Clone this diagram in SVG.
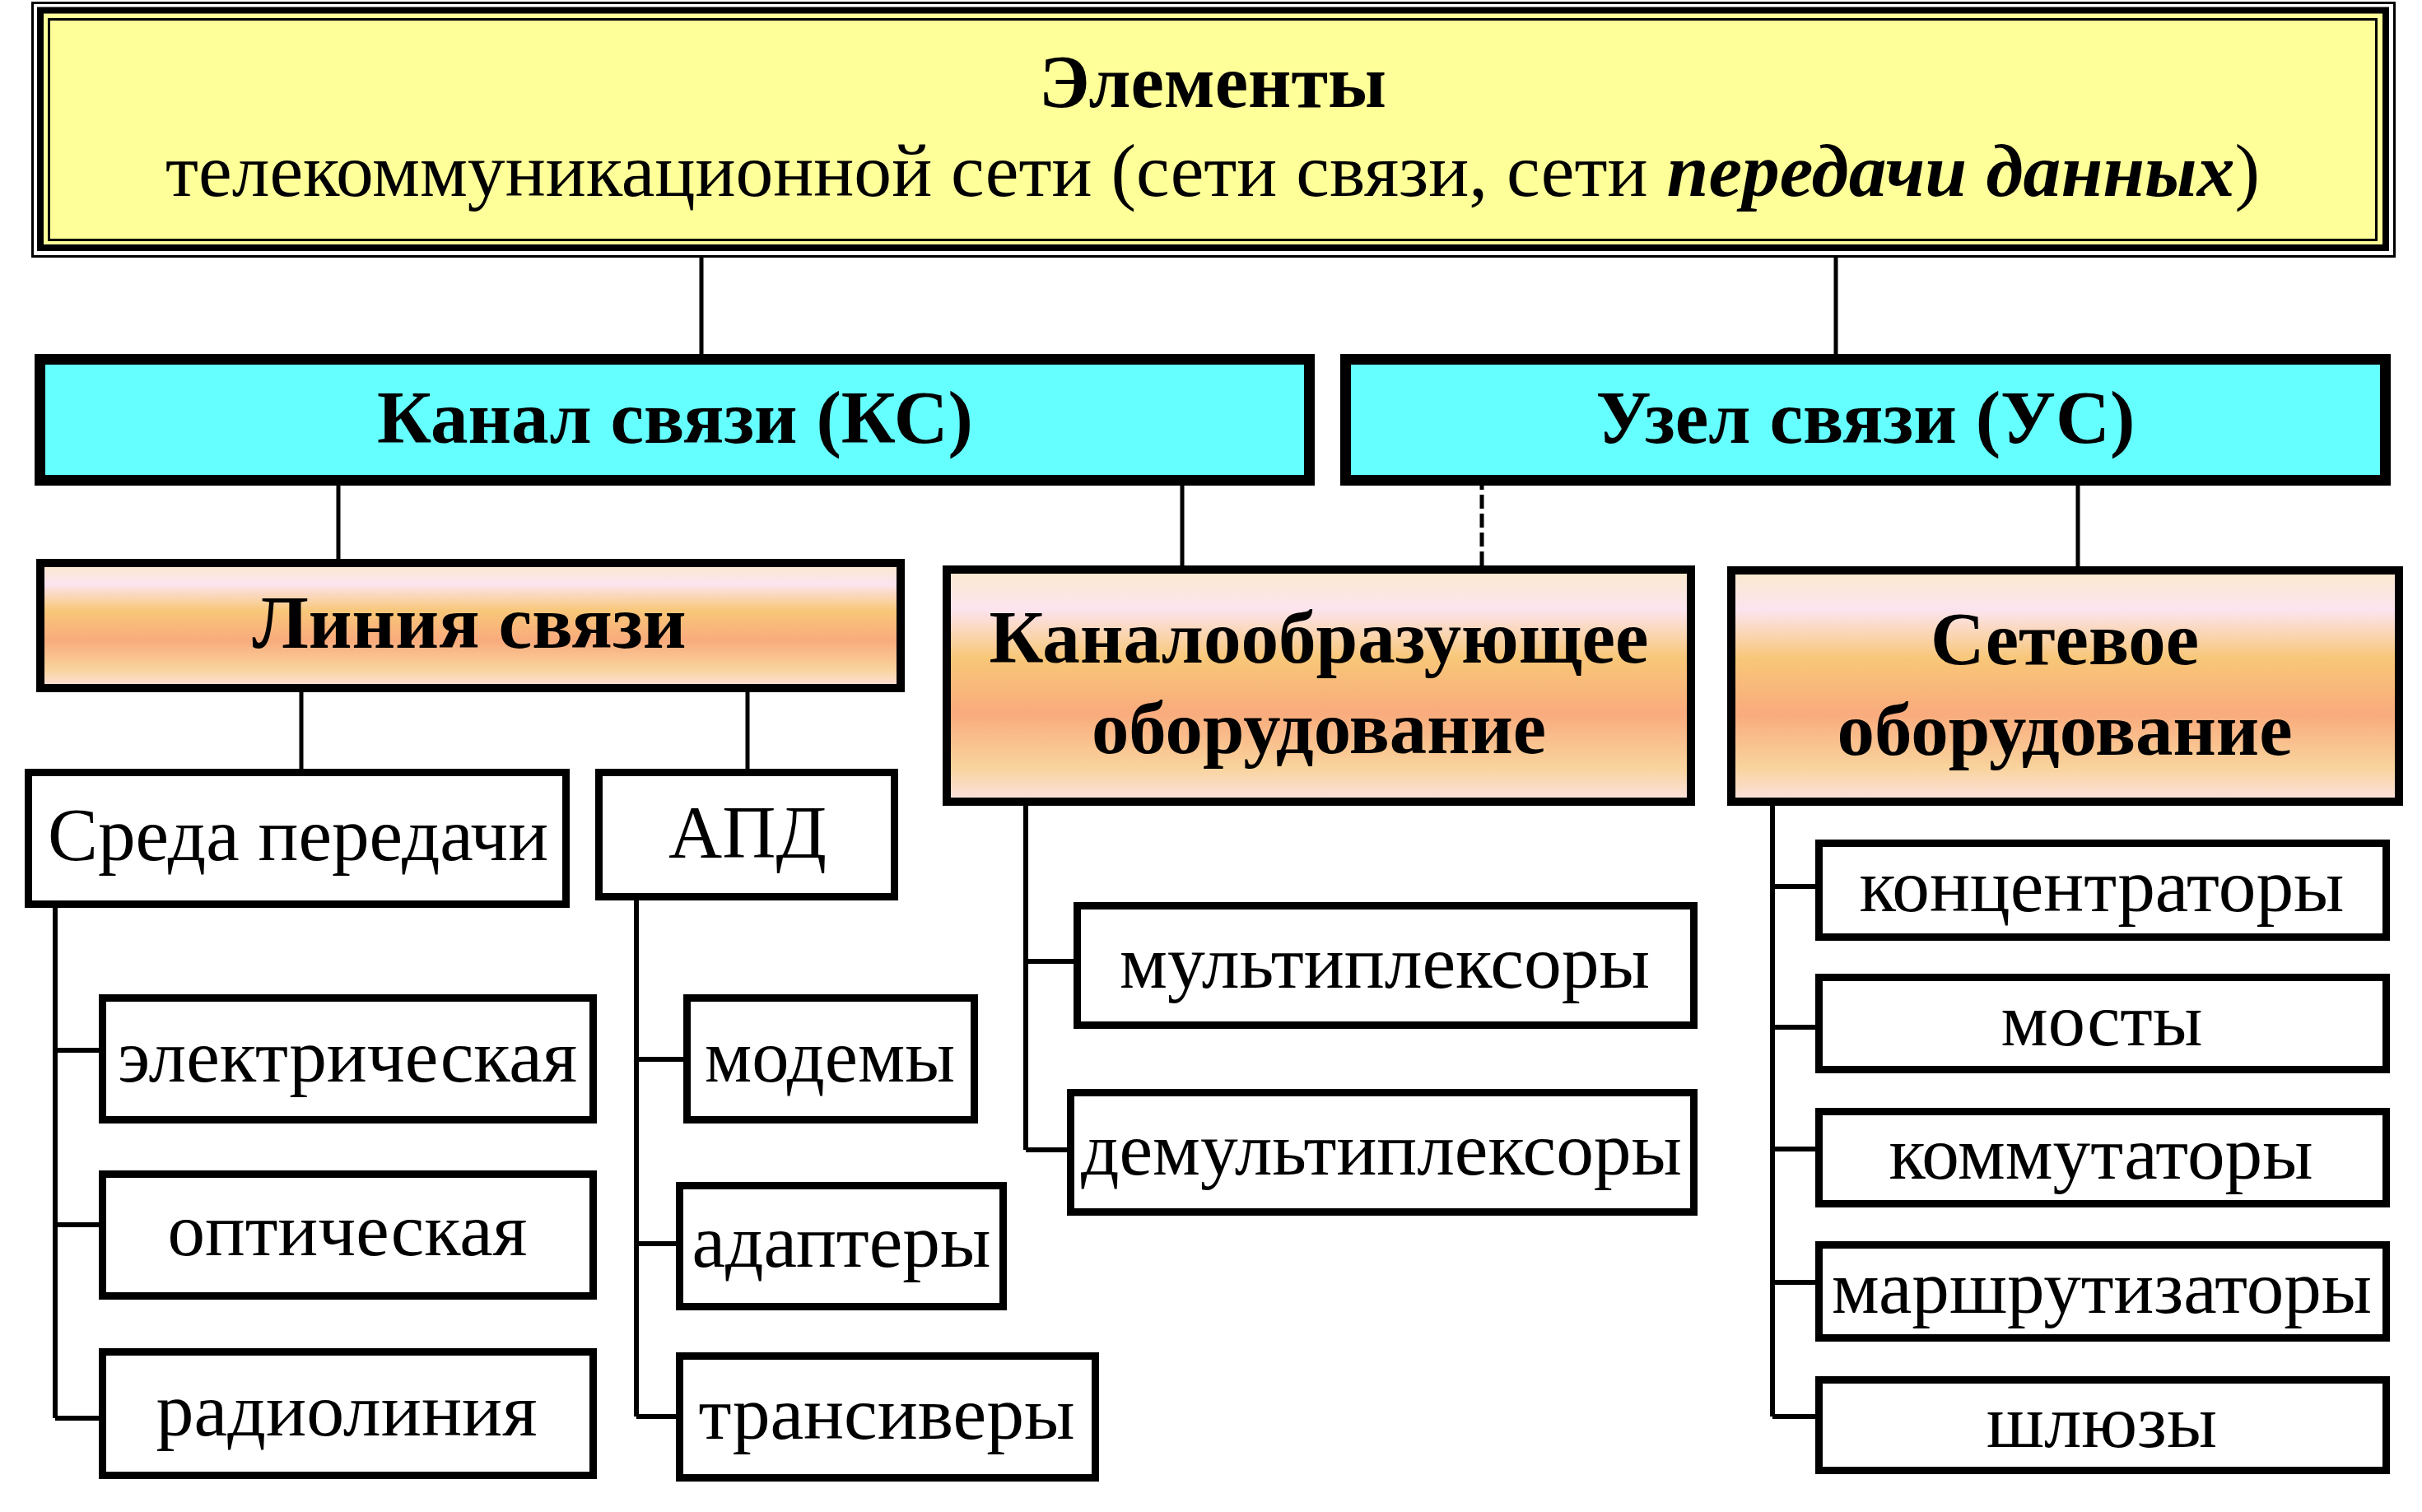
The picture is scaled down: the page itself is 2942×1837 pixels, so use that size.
<svg xmlns="http://www.w3.org/2000/svg" width="2942" height="1837" viewBox="0 0 2942 1837">
<defs>
<linearGradient id="peach" x1="0" y1="0" x2="0" y2="1">
<stop offset="0" stop-color="#FBE9CC"/>
<stop offset="0.17" stop-color="#FCE4EF"/>
<stop offset="0.38" stop-color="#F8C778"/>
<stop offset="0.62" stop-color="#F9AB7D"/>
<stop offset="0.85" stop-color="#F9D39C"/>
<stop offset="1" stop-color="#FBE2E0"/>
</linearGradient>
<style>
text{font-family:"Liberation Serif","Times New Roman",serif;fill:#000;text-anchor:middle}
.t{font-size:90px}
.h{font-size:90px;font-weight:bold}
.leaf{fill:#fff;stroke:#000;stroke-width:9}
.cy{fill:#66FFFF;stroke:#000;stroke-width:13}
.pe{fill:url(#peach);stroke:#000;stroke-width:10}
.c{fill:none;stroke:#000;stroke-width:5}
.ct{fill:none;stroke:#000;stroke-width:6}
</style>
</defs>
<rect width="2942" height="1837" fill="#fff"/>

<g id="connectors">
<path class="c" d="M852 313V430M2230 313V430"/>
<path class="c" d="M411 590V679M1436 590V689M2524 590V688"/>
<path class="c" d="M1800 590V687" stroke-width="6" stroke-dasharray="17 6" stroke-dashoffset="12"/>
<path class="c" d="M366 841V934M908 841V934"/>
<path class="ct" d="M67 1103V1723M67 1276H120M67 1488H120M67 1723H120"/>
<path class="ct" d="M773 1094V1721M773 1287H830M773 1511H821M773 1721H821"/>
<path class="ct" d="M1246 977V1397M1246 1168H1304M1246 1397H1296"/>
<path class="ct" d="M2153 979V1721M2153 1077H2205M2153 1248H2205M2153 1396H2205M2153 1558H2205M2153 1721H2205"/>
</g>

<g id="top">
<rect x="39.5" y="3.5" width="2869" height="308" fill="#fff" stroke="#000" stroke-width="3"/>
<rect x="49" y="12.5" width="2849" height="288.5" fill="#FFFF99" stroke="#000" stroke-width="8"/>
<rect x="59.5" y="23.5" width="2827" height="268" fill="none" stroke="#000" stroke-width="3"/>
<text class="h" x="1473" y="130" textLength="422" lengthAdjust="spacingAndGlyphs">Элементы</text>
<text class="t" x="1473" y="238" textLength="2544" lengthAdjust="spacingAndGlyphs">телекоммуникационной сети (сети связи, сети <tspan font-weight="bold" font-style="italic">передачи данных</tspan>)</text>
</g>

<g id="ks">
<rect class="cy" x="48.5" y="436.5" width="1542" height="147"/>
<text class="h" x="820" y="538" textLength="724" lengthAdjust="spacingAndGlyphs">Канал связи (КС)</text>
</g>

<g id="us">
<rect class="cy" x="1634.5" y="436.5" width="1263" height="147"/>
<text class="h" x="2266" y="538" textLength="655" lengthAdjust="spacingAndGlyphs">Узел связи (УС)</text>
</g>

<g id="liniya">
<rect class="pe" x="49" y="684" width="1045" height="152"/>
<text class="h" x="570" y="787" textLength="527" lengthAdjust="spacingAndGlyphs">Линия связи</text>
</g>

<g id="kanaloobr">
<rect class="pe" x="1150" y="692" width="904" height="282" stroke-width="6"/>
<text class="h" x="1602" y="805" textLength="801" lengthAdjust="spacingAndGlyphs">Каналообразующее</text>
<text class="h" x="1602" y="915" textLength="552" lengthAdjust="spacingAndGlyphs">оборудование</text>
</g>

<g id="setevoe">
<rect class="pe" x="2103" y="693" width="811" height="281"/>
<text class="h" x="2508" y="807" textLength="326" lengthAdjust="spacingAndGlyphs">Сетевое</text>
<text class="h" x="2508" y="917" textLength="553" lengthAdjust="spacingAndGlyphs">оборудование</text>
</g>

<g id="sreda">
<rect class="leaf" x="34.5" y="938.5" width="653" height="160"/>
<text class="t" x="362" y="1045" textLength="608" lengthAdjust="spacingAndGlyphs">Среда передачи</text>
</g>

<g id="apd">
<rect class="leaf" x="727.5" y="938.5" width="359" height="151"/>
<text class="t" x="908" y="1042" textLength="192" lengthAdjust="spacingAndGlyphs">АПД</text>
</g>

<g id="elec">
<rect class="leaf" x="124.5" y="1212.5" width="596" height="148"/>
<text class="t" x="422" y="1314" textLength="558" lengthAdjust="spacingAndGlyphs">электрическая</text>
</g>
<g id="opt">
<rect class="leaf" x="124.5" y="1426.5" width="596" height="148"/>
<text class="t" x="422" y="1525" textLength="437" lengthAdjust="spacingAndGlyphs">оптическая</text>
</g>
<g id="radio">
<rect class="leaf" x="124.5" y="1642.5" width="596" height="150"/>
<text class="t" x="421" y="1744" textLength="463" lengthAdjust="spacingAndGlyphs">радиолиния</text>
</g>

<g id="modem">
<rect class="leaf" x="834.5" y="1212.5" width="349" height="148"/>
<text class="t" x="1008" y="1314" textLength="304" lengthAdjust="spacingAndGlyphs">модемы</text>
</g>
<g id="adapt">
<rect class="leaf" x="825.5" y="1440.5" width="393" height="147"/>
<text class="t" x="1022" y="1539" textLength="363" lengthAdjust="spacingAndGlyphs">адаптеры</text>
</g>
<g id="trans">
<rect class="leaf" x="825.5" y="1647.5" width="505" height="148"/>
<text class="t" x="1077" y="1748" textLength="457" lengthAdjust="spacingAndGlyphs">трансиверы</text>
</g>

<g id="mux">
<rect class="leaf" x="1308.5" y="1100.5" width="749" height="145"/>
<text class="t" x="1682" y="1200" textLength="644" lengthAdjust="spacingAndGlyphs">мультиплексоры</text>
</g>
<g id="demux">
<rect class="leaf" x="1300.5" y="1327.5" width="757" height="145"/>
<text class="t" x="1678" y="1427" textLength="730" lengthAdjust="spacingAndGlyphs">демультиплексоры</text>
</g>

<g id="conc">
<rect class="leaf" x="2209.5" y="1024.5" width="689" height="114"/>
<text class="t" x="2553" y="1107" textLength="589" lengthAdjust="spacingAndGlyphs">концентраторы</text>
</g>
<g id="mosty">
<rect class="leaf" x="2209.5" y="1187.5" width="689" height="112"/>
<text class="t" x="2553" y="1270" textLength="245" lengthAdjust="spacingAndGlyphs">мосты</text>
</g>
<g id="komm">
<rect class="leaf" x="2209.5" y="1350.5" width="689" height="112"/>
<text class="t" x="2552" y="1432" textLength="515" lengthAdjust="spacingAndGlyphs">коммутаторы</text>
</g>
<g id="marsh">
<rect class="leaf" x="2209.5" y="1512.5" width="689" height="113"/>
<text class="t" x="2553" y="1595" textLength="656" lengthAdjust="spacingAndGlyphs">маршрутизаторы</text>
</g>
<g id="shluz">
<rect class="leaf" x="2209.5" y="1676.5" width="689" height="110"/>
<text class="t" x="2553" y="1758" textLength="280" lengthAdjust="spacingAndGlyphs">шлюзы</text>
</g>
</svg>
